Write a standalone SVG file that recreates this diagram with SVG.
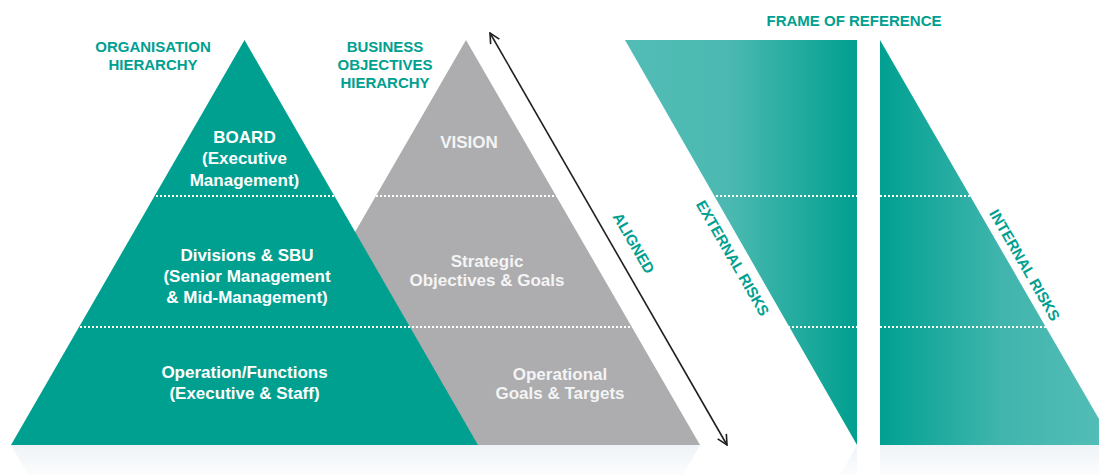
<svg xmlns="http://www.w3.org/2000/svg" width="1099" height="475" viewBox="0 0 1099 475">
<defs>
<style>
.title{font-family:"Liberation Sans",Arial,sans-serif;font-weight:bold;font-size:15px;fill:#00a090;text-anchor:middle}
.wt{font-family:"Liberation Sans",Arial,sans-serif;font-weight:bold;font-size:17px;fill:#ffffff;text-anchor:middle}
.gt{font-family:"Liberation Sans",Arial,sans-serif;font-weight:bold;font-size:17px;fill:#f4f4f4;text-anchor:middle}
.rot{font-family:"Liberation Sans",Arial,sans-serif;font-weight:bold;font-size:15px;fill:#00a090;text-anchor:middle;dominant-baseline:central}
.dots{stroke:#ffffff;stroke-width:2;stroke-dasharray:2 2;fill:none}
.arrow{stroke:#231f20;stroke-width:1.6;fill:none}
</style>
<linearGradient id="gExt" x1="625" y1="0" x2="857" y2="0" gradientUnits="userSpaceOnUse">
<stop offset="0" stop-color="#52bdb6"/>
<stop offset="0.45" stop-color="#4bb9b1"/>
<stop offset="1" stop-color="#009f8f"/>
</linearGradient>
<linearGradient id="gInt" x1="880" y1="0" x2="1099" y2="0" gradientUnits="userSpaceOnUse">
<stop offset="0" stop-color="#00a091"/>
<stop offset="0.55" stop-color="#40b5ad"/>
<stop offset="1" stop-color="#52bdb6"/>
</linearGradient>
<linearGradient id="gRef" x1="0" y1="445" x2="0" y2="475" gradientUnits="userSpaceOnUse">
<stop offset="0" stop-color="#eef3f7"/>
<stop offset="1" stop-color="#f8fafc" stop-opacity="0.6"/>
</linearGradient>
<marker id="ah" viewBox="0 0 12 12" refX="11" refY="6" markerWidth="12" markerHeight="12" markerUnits="userSpaceOnUse" orient="auto-start-reverse">
<path d="M1,1 L11,6 L1,11" stroke="#231f20" stroke-width="1.6" fill="none"/>
</marker>
</defs>
<rect width="1099" height="475" fill="#ffffff"/>

<g id="reflections">
<polygon points="11,445 700,445 683,475 28,475" fill="url(#gRef)"/>
<polygon points="857,445 857,475 840,475" fill="url(#gRef)"/>
<rect x="880" y="445" width="219" height="30" fill="url(#gRef)"/>
</g>

<g id="titles">
<text class="title" x="153" y="52">ORGANISATION</text>
<text class="title" x="153" y="70">HIERARCHY</text>
<text class="title" x="385" y="52">BUSINESS</text>
<text class="title" x="385" y="70">OBJECTIVES</text>
<text class="title" x="385" y="88">HIERARCHY</text>
<text class="title" x="854" y="26">FRAME OF REFERENCE</text>
</g>

<g id="objectives-pyramid">
<polygon points="466,40 232,445 700,445" fill="#adadaf"/>
</g>

<g id="org-pyramid">
<polygon points="244.5,40 11,445 478,445" fill="#00a090"/>
</g>

<g id="external-risks">
<polygon points="625,40 857,40 857,445" fill="url(#gExt)"/>
</g>

<g id="internal-risks">
<polygon points="880,40 880,445 1114,445" fill="url(#gInt)"/>
</g>

<g id="dividers">
<line class="dots" x1="0" y1="196" x2="1099" y2="196"/>
<line class="dots" x1="0" y1="327" x2="1099" y2="327"/>
</g>

<g id="org-labels">
<text class="wt" x="244.5" y="143">BOARD</text>
<text class="wt" x="244.5" y="164">(Executive</text>
<text class="wt" x="244.5" y="186">Management)</text>
<text class="wt" x="247" y="261">Divisions &amp; SBU</text>
<text class="wt" x="247" y="282">(Senior Management</text>
<text class="wt" x="247" y="303">&amp; Mid-Management)</text>
<text class="wt" x="244.5" y="378">Operation/Functions</text>
<text class="wt" x="244.5" y="399">(Executive &amp; Staff)</text>
</g>

<g id="objectives-labels">
<text class="gt" x="469" y="148">VISION</text>
<text class="gt" x="487" y="267">Strategic</text>
<text class="gt" x="487" y="286">Objectives &amp; Goals</text>
<text class="gt" x="560" y="380">Operational</text>
<text class="gt" x="560" y="399">Goals &amp; Targets</text>
</g>

<g id="risk-labels">
<text class="rot" x="733" y="258" transform="rotate(60 733 258)">EXTERNAL RISKS</text>
<text class="rot" x="1025" y="265" transform="rotate(60 1025 265)">INTERNAL RISKS</text>
</g>

<g id="connectors">
<line class="arrow" x1="490" y1="33" x2="727" y2="445" marker-start="url(#ah)" marker-end="url(#ah)"/>
<text class="rot" x="634" y="243" transform="rotate(60 634 243)">ALIGNED</text>
</g>
</svg>
